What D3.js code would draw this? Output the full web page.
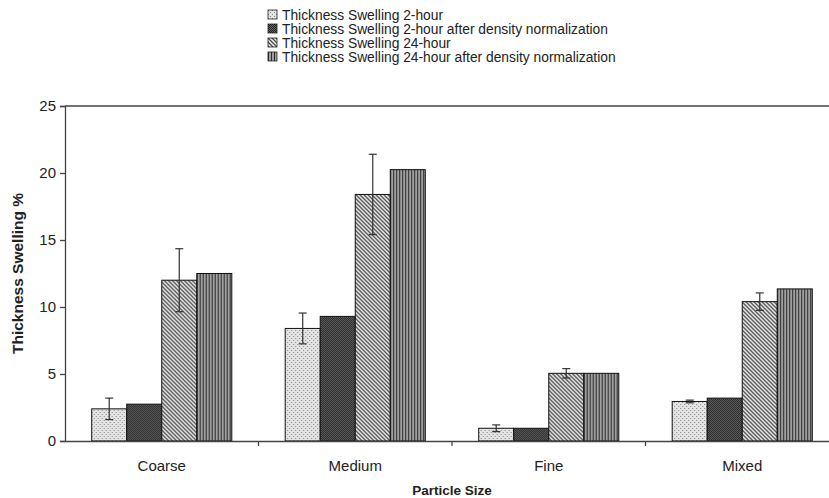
<!DOCTYPE html>
<html>
<head>
<meta charset="utf-8">
<script src="https://cdn.jsdelivr.net/npm/d3@7"></script>
<style>
  html, body { margin: 0; padding: 0; background: #fff; }
  svg { display: block; font-family: "Liberation Sans", Arial, sans-serif; }
</style>
</head>
<body>
<svg id="chart" width="829" height="498"></svg>
<script>
// Particle-size categories along the x axis
const categories = ["Coarse", "Medium", "Fine", "Mixed"];
// Series names (legend order)
const seriesNames = [
  "Thickness Swelling 2-hour",
  "Thickness Swelling 2-hour after density normalization",
  "Thickness Swelling 24-hour",
  "Thickness Swelling 24-hour after density normalization"
];
// Mean thickness swelling (%) per category, one array per series
const ts2h      = [2.4, 8.4, 0.95, 2.95];
const ts2hNorm  = [2.75, 9.3, 0.95, 3.2];
const ts24h     = [12.0, 18.4, 5.05, 10.4];
const ts24hNorm = [12.5, 20.25, 5.05, 11.35];
// Error-bar half widths (only the raw measurements carry them)
const ts2hErr   = [0.8, 1.15, 0.25, 0.1];
const ts24hErr  = [2.35, 3.0, 0.35, 0.65];
// Y axis ticks
const yTicks = [0, 5, 10, 15, 20, 25];

const seriesValues = [ts2h, ts2hNorm, ts24h, ts24hNorm];
const seriesErrors = [ts2hErr, null, ts24hErr, null];

const svg = d3.select("#chart");
const margin = { left: 65, top: 106, bottom: 441, right: 839 };
const FONT = "Liberation Sans, Arial, sans-serif";

// ---- fill patterns ----
const defs = svg.append("defs");
// light stipple
const p0 = defs.append("pattern").attr("id", "pat0").attr("patternUnits", "userSpaceOnUse")
  .attr("width", 4).attr("height", 4);
p0.append("rect").attr("width", 4).attr("height", 4).attr("fill", "#e4e4e4");
p0.append("rect").attr("x", 0).attr("y", 0).attr("width", 1).attr("height", 1).attr("fill", "#858585");
p0.append("rect").attr("x", 2).attr("y", 2).attr("width", 1).attr("height", 1).attr("fill", "#858585");
// dark checker
const p1 = defs.append("pattern").attr("id", "pat1").attr("patternUnits", "userSpaceOnUse")
  .attr("width", 2).attr("height", 2);
p1.append("rect").attr("width", 2).attr("height", 2).attr("fill", "#6a6a6a");
p1.append("rect").attr("x", 0).attr("y", 0).attr("width", 1).attr("height", 1).attr("fill", "#1e1e1e");
p1.append("rect").attr("x", 1).attr("y", 1).attr("width", 1).attr("height", 1).attr("fill", "#1e1e1e");
// diagonal hatch
const p2 = defs.append("pattern").attr("id", "pat2").attr("patternUnits", "userSpaceOnUse")
  .attr("width", 4).attr("height", 4);
p2.append("rect").attr("width", 4).attr("height", 4).attr("fill", "#f2f2f2");
p2.append("path").attr("d", "M-1,-1 L5,5 M-1,3 L1,5 M3,-1 L5,1")
  .attr("stroke", "#4a4a4a").attr("stroke-width", 1.3);
// vertical stripes
const p3 = defs.append("pattern").attr("id", "pat3").attr("patternUnits", "userSpaceOnUse")
  .attr("width", 3).attr("height", 3);
p3.append("rect").attr("width", 3).attr("height", 3).attr("fill", "#a0a0a0");
p3.append("rect").attr("x", 0).attr("width", 1).attr("height", 3).attr("fill", "#2a2a2a");

const fills = ["url(#pat0)", "url(#pat1)", "url(#pat2)", "url(#pat3)"];

// ---- scales ----
const x0 = d3.scaleBand().domain(categories).range([margin.left, margin.right]).paddingInner(0).paddingOuter(0);
const x1 = d3.scaleBand().domain(d3.range(4)).range([0, x0.bandwidth() * 0.724]);
const groupOffset = x0.bandwidth() * (1 - 0.724) / 2;
const y = d3.scaleLinear().domain([0, 25]).range([margin.bottom, margin.top]);

// ---- bars ----
const groups = svg.append("g").selectAll("g").data(categories).join("g")
  .attr("transform", d => `translate(${x0(d) + groupOffset},0)`);

groups.each(function (cat, ci) {
  const g = d3.select(this);
  seriesValues.forEach((vals, si) => {
    g.append("rect")
      .attr("x", x1(si))
      .attr("y", y(vals[ci]))
      .attr("width", x1.bandwidth())
      .attr("height", y(0) - y(vals[ci]))
      .attr("fill", fills[si])
      .attr("stroke", "#111")
      .attr("stroke-width", 1);
  });
  // error bars
  seriesErrors.forEach((errs, si) => {
    if (!errs) return;
    const cx = x1(si) + x1.bandwidth() / 2;
    const v = seriesValues[si][ci], e = errs[ci];
    const eb = g.append("g").attr("stroke", "#333").attr("stroke-width", 1.2);
    eb.append("line").attr("x1", cx).attr("x2", cx).attr("y1", y(v - e)).attr("y2", y(v + e));
    eb.append("line").attr("x1", cx - 4).attr("x2", cx + 4).attr("y1", y(v + e)).attr("y2", y(v + e));
    eb.append("line").attr("x1", cx - 4).attr("x2", cx + 4).attr("y1", y(v - e)).attr("y2", y(v - e));
  });
});

// ---- axes ----
const yAxis = d3.axisLeft(y).tickValues(yTicks).tickSize(5).tickPadding(4);
const yg = svg.append("g").attr("transform", `translate(${margin.left},0)`).call(yAxis);
yg.select(".domain").attr("stroke", "#444").attr("stroke-width", 1.3);
yg.selectAll(".tick line").attr("stroke", "#444").attr("stroke-width", 1.3);
yg.selectAll(".tick text").attr("font-size", 15).attr("fill", "#222").attr("font-family", FONT);

// top frame line
svg.append("line").attr("x1", margin.left).attr("x2", margin.right)
  .attr("y1", y(25)).attr("y2", y(25)).attr("stroke", "#444").attr("stroke-width", 1.6);

// bottom axis with separator ticks between categories
const xAxis = d3.axisBottom(x0).tickSize(0).tickPadding(19);
const xg = svg.append("g").attr("transform", `translate(0,${margin.bottom})`).call(xAxis);
xg.select(".domain").attr("stroke", "#444").attr("stroke-width", 1.3);
xg.selectAll(".tick text").attr("font-size", 15).attr("fill", "#222").attr("font-family", FONT);
xg.selectAll(".sep").data(categories.slice(1)).join("line").attr("class", "sep")
  .attr("x1", d => x0(d)).attr("x2", d => x0(d)).attr("y1", 0).attr("y2", 5)
  .attr("stroke", "#444").attr("stroke-width", 1.3);

// axis titles
svg.append("text").attr("x", (margin.left + margin.right) / 2).attr("y", 495)
  .attr("text-anchor", "middle").attr("font-size", 13.5).attr("font-weight", "bold").attr("fill", "#222")
  .text("Particle Size");
svg.append("text").attr("transform", `translate(23,${(margin.top + margin.bottom) / 2}) rotate(-90)`)
  .attr("text-anchor", "middle").attr("font-size", 15.5).attr("font-weight", "bold").attr("fill", "#222")
  .text("Thickness Swelling %");

// ---- legend ----
const legend = svg.append("g").attr("transform", "translate(268,10)");
seriesNames.forEach((name, i) => {
  const row = legend.append("g").attr("transform", `translate(0,${i * 14})`);
  row.append("rect").attr("x", 0).attr("y", 0).attr("width", 9).attr("height", 9)
    .attr("fill", fills[i]).attr("stroke", "#222").attr("stroke-width", 0.8);
  row.append("text").attr("x", 14).attr("y", 9.5).attr("font-size", 13.8).attr("fill", "#222")
    .text(name);
});
</script>
</body>
</html>
